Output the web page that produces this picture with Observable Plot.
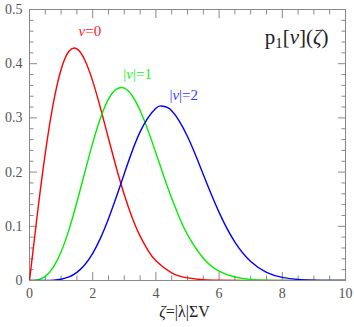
<!DOCTYPE html>
<html><head><meta charset="utf-8">
<script src="https://cdn.jsdelivr.net/npm/d3@7"></script>
<script src="https://cdn.jsdelivr.net/npm/@observablehq/plot@0.6"></script>
<style>body{margin:0;background:#fff} svg{display:block} svg text{font-family:"Liberation Serif","Times New Roman",serif}</style>
</head><body><div id="chart"></div>
<script>
// nu = 0
const zeta0 = [0,0.25,0.5,0.75,1,1.25,1.5,1.75,2,2.25,2.5,2.75,3,3.25,3.5,3.75,4,4.5,5,5.5,6,7,8,9,10];
const p0    = [0,0.1231,0.2349,0.3258,0.3894,0.4229,0.4273,0.4069,0.3679,0.3173,0.2620,0.2076,0.1581,0.1159,0.0818,0.0557,0.0366,0.0142,0.0048,0.0014,0.0004,0.00002,0,0,0];
// |nu| = 1
const zeta1 = [0,0.25,0.5,0.75,1,1.25,1.5,1.75,2,2.25,2.5,2.75,3,3.25,3.5,3.75,4,4.25,4.5,4.75,5,5.5,6,6.5,7,7.5,8,9,10];
const p1    = [0,0.0010,0.0075,0.0240,0.0529,0.0939,0.1444,0.1995,0.2535,0.3001,0.3345,0.3531,0.3550,0.3409,0.3136,0.2770,0.2353,0.1923,0.1516,0.1152,0.0845,0.0410,0.0173,0.0064,0.0021,0.0006,0.0001,0,0];
// |nu| = 2
const zeta2 = [0,0.5,0.75,1,1.25,1.5,1.75,2,2.25,2.5,2.75,3,3.5,4,4.2,4.5,5,5.5,6,6.5,7,7.5,8,8.5,9,9.5,10];
const p2    = [0,0.0001,0.0006,0.0023,0.0065,0.0149,0.0290,0.0501,0.0787,0.1141,0.1545,0.1971,0.2742,0.3178,0.3216,0.3131,0.2656,0.1956,0.1257,0.0708,0.0350,0.0152,0.0058,0.0020,0.0006,0.0002,0];

const xMajor = [0,2,4,6,8,10];
const xMinor = [0.5,1,1.5,2.5,3,3.5,4.5,5,5.5,6.5,7,7.5,8.5,9,9.5];
const yMajor = [0,0.1,0.2,0.3,0.4,0.5];
const yMinor = [0.02,0.04,0.06,0.08,0.12,0.14,0.16,0.18,0.22,0.24,0.26,0.28,0.32,0.34,0.36,0.38,0.42,0.44,0.46,0.48];

const seriesNames = ["ν=0","|ν|=1","|ν|=2"];
const seriesColors = ["#ff0000","#00ee00","#0000ff"];
const labelColors = ["#ff2020","#22ee22","#3a3aff"];
const labelX = [1.91, 3.42, 4.88];
const labelY = [0.460, 0.381, 0.342];

const titleText = "p1[ν](ζ)";
const xLabel = "ζ=|λ|ΣV";

const rows = (zs, ps) => zs.map((z, i) => ({zeta: z, p: ps[i]}));
const series = [rows(zeta0, p0), rows(zeta1, p1), rows(zeta2, p2)];
const labels = seriesNames.map((t, i) => ({text: t, x: labelX[i], y: labelY[i], color: labelColors[i]}));

const GRAY = "#888";
const TXT = "#555";
const FONT = "Liberation Serif";
const none = () => "";
const plain = d => String(d);

const plot = Plot.plot({
  width: 354, height: 327,
  marginLeft: 29, marginRight: 9, marginTop: 9, marginBottom: 47,
  style: {fontFamily: FONT, fontSize: "13px", background: "#fff"},
  x: {domain: [0, 10]},
  y: {domain: [0, 0.5]},
  marks: [
    Plot.frame({stroke: GRAY}),
    // ticks inside, all four sides
    Plot.axisX(xMajor, {anchor: "bottom", tickSize: -8, tickFormat: none, stroke: GRAY, label: null}),
    Plot.axisX(xMinor, {anchor: "bottom", tickSize: -4.5, tickFormat: none, stroke: GRAY, label: null}),
    Plot.axisX(xMajor, {anchor: "top", tickSize: -8, tickFormat: none, stroke: GRAY, label: null}),
    Plot.axisX(xMinor, {anchor: "top", tickSize: -4.5, tickFormat: none, stroke: GRAY, label: null}),
    Plot.axisY(yMajor, {anchor: "left", tickSize: -8, tickFormat: none, stroke: GRAY, label: null}),
    Plot.axisY(yMinor, {anchor: "left", tickSize: -4.5, tickFormat: none, stroke: GRAY, label: null}),
    Plot.axisY(yMajor, {anchor: "right", tickSize: -8, tickFormat: none, stroke: GRAY, label: null}),
    Plot.axisY(yMinor, {anchor: "right", tickSize: -4.5, tickFormat: none, stroke: GRAY, label: null}),
    // tick labels
    Plot.axisX(xMajor, {anchor: "bottom", tickSize: 0, tickPadding: 8, tickFormat: plain, fill: TXT, fontSize: 14, fontFamily: FONT, label: null}),
    Plot.axisY(yMajor, {anchor: "left", tickSize: 0, tickPadding: 7, tickFormat: plain, fill: TXT, fontSize: 14, fontFamily: FONT, label: null}),
    // curves
    ...series.map((d, i) => Plot.line(d, {x: "zeta", y: "p", stroke: seriesColors[i], strokeWidth: 1.4, curve: "natural", clip: true})),
    // series labels
    ...labels.map(l => Plot.text([l], {x: "x", y: "y", text: "text", fill: l.color, fontSize: 15, fontFamily: FONT, textAnchor: "middle", lineAnchor: "middle"})),
    // title and axis label
    Plot.text([titleText], {frameAnchor: "top-right", dx: -17, dy: 28, fontSize: 21, fontFamily: FONT, fill: "#222", textAnchor: "end", lineAnchor: "middle"}),
    Plot.text([xLabel], {frameAnchor: "bottom", dx: -3, dy: 31, fontSize: 16, fontFamily: FONT, fill: "#222", textAnchor: "middle", lineAnchor: "middle"})
  ]
});
document.getElementById("chart").appendChild(plot);

// typographic touches: italic Greek letters, subscript in title
d3.select(plot).selectAll("text").each(function() {
  const el = d3.select(this);
  const t = this.textContent;
  if (t === titleText) {
    el.text(null);
    el.append("tspan").text("p");
    el.append("tspan").attr("font-size", "70%").attr("dy", 4).text("1");
    el.append("tspan").attr("dy", -4).text("[");
    el.append("tspan").attr("font-style", "italic").text("ν");
    el.append("tspan").text("](");
    el.append("tspan").attr("font-style", "italic").text("ζ");
    el.append("tspan").text(")");
  } else if (/[νζ]/.test(t) && this.childElementCount === 0) {
    el.text(null);
    for (const ch of t) {
      const s = el.append("tspan").text(ch);
      if (ch === "ν" || ch === "ζ") s.attr("font-style", "italic");
    }
  }
});
</script>
</body></html>
